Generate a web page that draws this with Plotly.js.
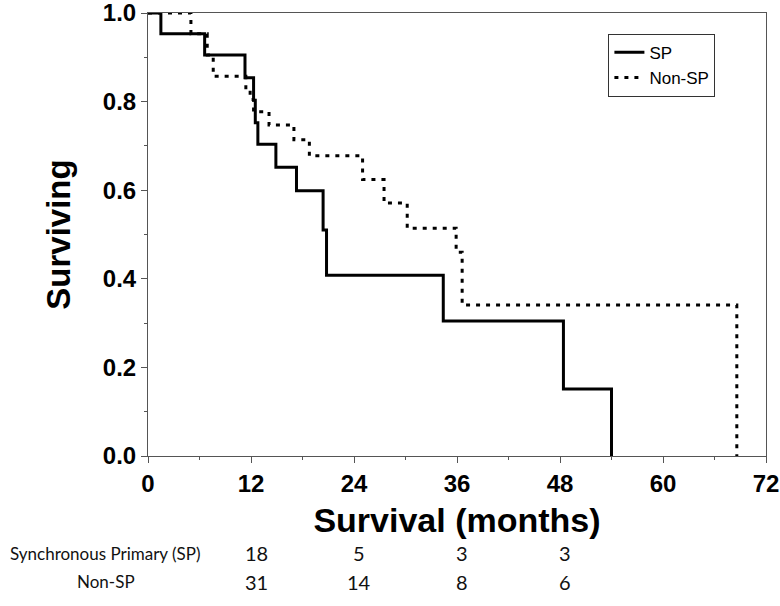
<!DOCTYPE html>
<html>
<head>
<meta charset="utf-8">
<script src="https://cdn.plot.ly/plotly-3.0.1.min.js"></script>
<style>
  html, body { margin: 0; padding: 0; background: #fff; }
  #chart { width: 780px; height: 606px; }
</style>
</head>
<body>
<div id="chart"></div>
<script>
// Kaplan-Meier step data (months, surviving fraction)
const spTimes = [0, 1.5, 6.6, 11.3, 12.3, 12.5, 12.8, 14.9, 17.3, 20.4, 20.8, 34.4, 48.4, 54.0];
const spSurv  = [1.0, 0.953, 0.905, 0.854, 0.803, 0.752, 0.704, 0.652, 0.599, 0.51, 0.408, 0.305, 0.151, 0.0];

const nonSpTimes = [0, 5.0, 6.9, 7.6, 11.4, 11.9, 12.3, 14.1, 17.0, 18.8, 25.0, 27.5, 30.2, 35.9, 36.6, 68.6];
const nonSpSurv  = [1.0, 0.953, 0.905, 0.857, 0.828, 0.805, 0.777, 0.747, 0.714, 0.678, 0.624, 0.571, 0.514, 0.46, 0.341, 0.0];

const seriesNames = ["SP", "Non-SP"];

// Number at risk table
const atRiskTimes = [12, 24, 36, 48];
const atRiskRowLabels = ["Synchronous Primary (SP)", "Non-SP"];
const atRiskSP = [18, 5, 3, 3];
const atRiskNonSP = [31, 14, 8, 6];

const xTickVals = [0, 12, 24, 36, 48, 60, 72];
const yTickVals = [0, 0.2, 0.4, 0.6, 0.8, 1.0];

const traces = [
  {
    x: spTimes, y: spSurv, name: seriesNames[0], type: "scatter", mode: "lines",
    line: { shape: "hv", color: "#000", width: 3 }
  },
  {
    x: nonSpTimes, y: nonSpSurv, name: seriesNames[1], type: "scatter", mode: "lines",
    line: { shape: "hv", color: "#000", width: 3, dash: "4px,6px" }
  }
];

// plot area: top 13, bottom 456 -> height 443
const rowY = [-0.219, -0.284];
const annotations = [];
atRiskRowLabels.forEach((lab, i) => {
  annotations.push({
    xref: "paper", yref: "paper", x: -0.068, y: rowY[i],
    text: lab, showarrow: false, xanchor: "center", yanchor: "middle",
    font: { family: "Lato, 'Open Sans', sans-serif", size: 17, color: "#111" }
  });
});
[atRiskSP, atRiskNonSP].forEach((row, i) => {
  row.forEach((v, j) => {
    annotations.push({
      xref: "x", yref: "paper", x: atRiskTimes[j], y: rowY[i], xshift: 5,
      text: String(v), showarrow: false, xanchor: "center", yanchor: "middle",
      font: { family: "Lato, 'Open Sans', sans-serif", size: 20, color: "#111" }
    });
  });
});

const layout = {
  width: 780, height: 606,
  margin: { l: 148, r: 14, t: 13, b: 150 },
  paper_bgcolor: "#fff", plot_bgcolor: "#fff",
  showlegend: true,
  legend: {
    x: 0.745, y: 0.953, xanchor: "left", yanchor: "top",
    bordercolor: "#333", borderwidth: 1, bgcolor: "#fff",
    font: { family: "Liberation Sans, Arial, sans-serif", size: 17, color: "#000" },
    itemwidth: 30, tracegroupgap: 0
  },
  xaxis: {
    range: [0, 72], tickvals: xTickVals, ticktext: xTickVals.map(String),
    showgrid: false, zeroline: false,
    showline: true, mirror: true, linecolor: "#555", linewidth: 1,
    ticks: "outside", ticklen: 6, tickwidth: 1, tickcolor: "#555",
    minor: { ticks: "outside", ticklen: 3, tickwidth: 1, tickcolor: "#555", dtick: 6, showgrid: false },
    tickfont: { family: "Liberation Sans, Arial, sans-serif", size: 24, color: "#000", weight: "bold" },
    ticklabeloverflow: "allow",
    title: { text: "<b>Survival (months)</b>", standoff: 12,
      font: { family: "Liberation Sans, Arial, sans-serif", size: 34, color: "#000" } },
    automargin: false
  },
  yaxis: {
    range: [0, 1], tickvals: yTickVals, ticktext: yTickVals.map(v => v.toFixed(1)),
    showgrid: false, zeroline: false,
    showline: true, mirror: true, linecolor: "#555", linewidth: 1,
    ticks: "outside", ticklen: 6, tickwidth: 1, tickcolor: "#555",
    minor: { ticks: "outside", ticklen: 3, tickwidth: 1, tickcolor: "#555", dtick: 0.1, showgrid: false },
    tickfont: { family: "Liberation Sans, Arial, sans-serif", size: 24, color: "#000", weight: "bold" },
    ticklabeloverflow: "allow",
    title: { text: "<b>Surviving</b>", standoff: 22,
      font: { family: "Liberation Sans, Arial, sans-serif", size: 33, color: "#000" } },
    automargin: false
  },
  annotations: annotations
};

Plotly.newPlot("chart", traces, layout, { displayModeBar: false, staticPlot: true });
</script>
</body>
</html>
